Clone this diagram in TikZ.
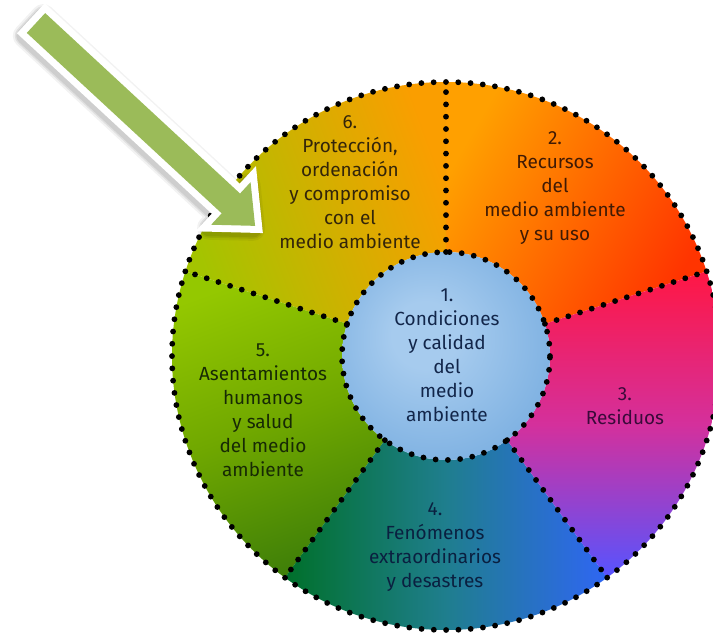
\documentclass[tikz,border=0pt]{standalone}
\usepackage{fontspec}
\setmainfont{Fira Sans}
\newfontfamily\lblfont{Fira Sans}
\definecolor{inL}{HTML}{A6CBEE}
\definecolor{inD}{HTML}{5898D6}
\definecolor{arrowgreen}{HTML}{9BBB59}
\definecolor{tx6}{HTML}{33250A}
\definecolor{tx2}{HTML}{3F1A05}
\definecolor{tx1}{HTML}{12264A}
\definecolor{tx5}{HTML}{172A05}
\definecolor{tx3}{HTML}{3A0A3A}
\definecolor{tx4}{HTML}{0A2040}
\pgfdeclareradialshading{innerball}{\pgfpoint{-6bp}{6bp}}{color(0bp)=(inL); color(8bp)=(inL); color(50bp)=(inD)}
\begin{document}
\begin{tikzpicture}[x=1pt,y=1pt,
  dots/.style={draw=black, line width=5.8pt, line cap=round, dash pattern=on 0pt off 12.3pt},
  lbl/.style={align=center, font=\lblfont\fontsize{19}{24}\selectfont, inner sep=0pt},
]
\useasboundingbox (0,0) rectangle (713,635);
\fill[white] (0,0) rectangle (713,635);
\coordinate (C) at (446,279);
% sector 2 (18..90)
\shade[shift={(446,279)}, top color={rgb,255:red,255;green,160;blue,0}, bottom color={rgb,255:red,255;green,52;blue,0}, shading angle=60]
  (18:104) -- (18:274) arc[start angle=18,end angle=90,radius=274] -- (90:104) arc[start angle=90,end angle=18,radius=104] -- cycle;
% sector 6 (90..162)
\shade[shift={(446,279)}, left color={rgb,255:red,164;green,196;blue,0}, right color={rgb,255:red,250;green,158;blue,0}, shading angle=110]
  (90:104) -- (90:274) arc[start angle=90,end angle=162,radius=274] -- (162:104) arc[start angle=162,end angle=90,radius=104] -- cycle;
% sector 5 (162..234)
\shade[shift={(446,279)}, top color={rgb,255:red,148;green,200;blue,0}, bottom color={rgb,255:red,64;green,128;blue,8}, middle color={rgb,255:red,112;green,168;blue,0}, shading angle=20]
  (162:104) -- (162:274) arc[start angle=162,end angle=234,radius=274] -- (234:104) arc[start angle=234,end angle=162,radius=104] -- cycle;
% sector 4 (234..306)
\shade[shift={(446,279)}, left color={rgb,255:red,0;green,112;blue,42}, right color={rgb,255:red,47;green,102;blue,243}, middle color={rgb,255:red,31;green,126;blue,142}]
  (234:104) -- (234:274) arc[start angle=234,end angle=306,radius=274] -- (306:104) arc[start angle=306,end angle=234,radius=104] -- cycle;
% sector 3 (306..378)
\shade[shift={(446,279)}, top color={rgb,255:red,255;green,23;blue,68}, bottom color={rgb,255:red,86;green,84;blue,255}, middle color={rgb,255:red,212;green,48;blue,156}]
  (306:104) -- (306:274) arc[start angle=306,end angle=378,radius=274] -- (18:104) arc[start angle=18,end angle=-54,radius=104] -- cycle;
% inner circle
\shade[shading=innerball] (C) circle[radius=104];
% dotted borders
\draw[dots] (C) circle[radius=274];
\draw[dots] (C) circle[radius=104];
\foreach \a in {90,18,-54,-126,162}
  \draw[dots, shift={(446,279)}] (\a:104) -- (\a:274);
% labels
\node[lbl, text=tx6] (s6) at (350,453) {6.\\Protección,\\ordenación\\y compromiso\\con el\\medio ambiente};
\node[lbl, text=tx2] (s2) at (555,446.5) {2.\\Recursos\\del\\medio ambiente\\y su uso};
\node[lbl, text=tx1] (s1) at (447,280) {1.\\Condiciones\\y calidad\\del\\medio\\ambiente};
\node[lbl, text=tx5] (s5) at (263,225) {5.\\Asentamientos\\humanos\\y salud\\del medio\\ambiente};
\node[lbl, text=tx3] (s3) at (625,229) {3.\\Residuos};
\node[lbl, text=tx4] (s4) at (435,88) {4.\\Fenómenos\\extraordinarios\\y desastres};
% arrow shadow
\begin{scope}[shift={(34,609)}, rotate=-42.8]
  \foreach \w/\o in {24/0.05,20/0.07,17/0.08}
    \draw[black, opacity=\o, line width=\w pt, line join=round]
      (0,13.5) -- (265.6,13.5) -- (265.6,29) -- (298.6,0) -- (265.6,-29) -- (265.6,-13.5) -- (0,-13.5) -- cycle;
\end{scope}
% arrow
\begin{scope}[shift={(36,612)}, rotate=-42.8]
  \draw[white, line width=14pt]
    (0,13.5) -- (265.6,13.5) -- (265.6,29) -- (298.6,0) -- (265.6,-29) -- (265.6,-13.5) -- (0,-13.5) -- cycle;
  \fill[arrowgreen]
    (0,13.5) -- (265.6,13.5) -- (265.6,29) -- (298.6,0) -- (265.6,-29) -- (265.6,-13.5) -- (0,-13.5) -- cycle;
\end{scope}
\end{tikzpicture}
\end{document}
